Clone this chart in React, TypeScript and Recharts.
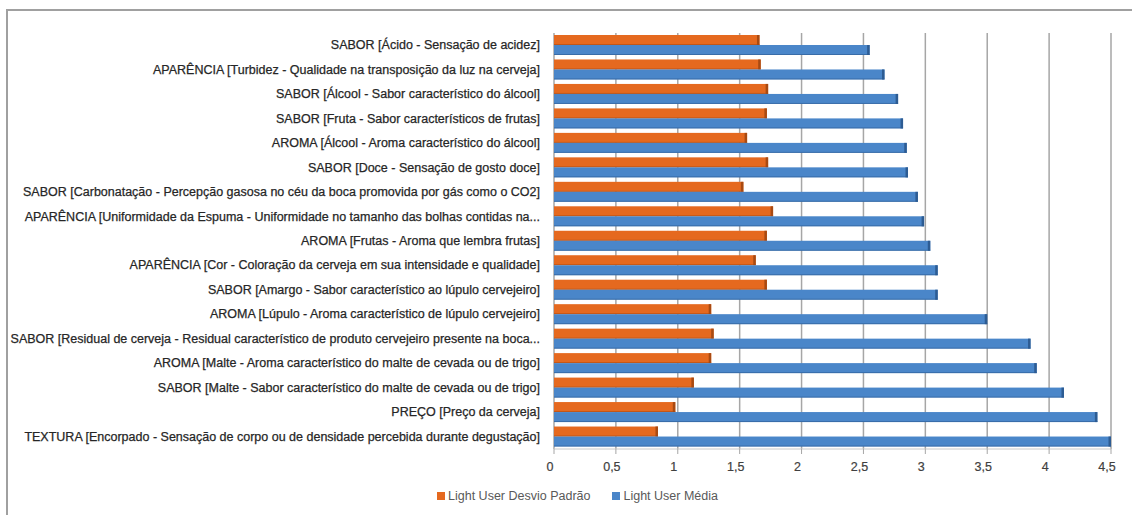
import React from 'react';
import { BarChart, Bar, XAxis, YAxis, CartesianGrid, Legend } from 'recharts';

const categories = [
  'SABOR [Ácido - Sensação de acidez]',
  'APARÊNCIA [Turbidez - Qualidade na transposição da luz na cerveja]',
  'SABOR [Álcool - Sabor característico do álcool]',
  'SABOR [Fruta - Sabor característicos de frutas]',
  'AROMA [Álcool - Aroma característico do álcool]',
  'SABOR [Doce - Sensação de gosto doce]',
  'SABOR [Carbonatação - Percepção gasosa no céu da boca promovida por gás como o CO2]',
  'APARÊNCIA [Uniformidade da Espuma - Uniformidade no tamanho das bolhas contidas na...',
  'AROMA [Frutas - Aroma que lembra frutas]',
  'APARÊNCIA [Cor - Coloração da cerveja em sua intensidade e qualidade]',
  'SABOR [Amargo - Sabor característico ao lúpulo cervejeiro]',
  'AROMA [Lúpulo - Aroma característico de lúpulo cervejeiro]',
  'SABOR [Residual de cerveja - Residual característico de produto cervejeiro presente na boca...',
  'AROMA [Malte - Aroma característico do malte de cevada ou de trigo]',
  'SABOR [Malte - Sabor característico do malte de cevada ou de trigo]',
  'PREÇO [Preço da cerveja]',
  'TEXTURA [Encorpado - Sensação de corpo ou de densidade percebida durante degustação]',
];

const desvioPadrao = [1.66, 1.67, 1.73, 1.72, 1.56, 1.73, 1.53, 1.77, 1.72, 1.63, 1.72, 1.27, 1.29, 1.27, 1.13, 0.98, 0.84];
const media = [2.55, 2.67, 2.78, 2.82, 2.85, 2.86, 2.94, 2.99, 3.04, 3.1, 3.1, 3.5, 3.85, 3.9, 4.12, 4.39, 4.5];

const xTicks = [0, 0.5, 1, 1.5, 2, 2.5, 3, 3.5, 4, 4.5];

const seriesNames = ['Light User Desvio Padrão', 'Light User Média'];

const data = categories.map((c, i) => ({ name: c, desvio: desvioPadrao[i], media: media[i] }));

const ORANGE = '#E5691F';
const ORANGE_DARK = '#A84A12';
const BLUE = '#4A86C9';
const BLUE_DARK = '#2D5C93';

const FONT = '"Liberation Sans", Arial, sans-serif';

const make3DShape = (fill: string, dark: string) => (props: any) => {
  const { x, y, width, height } = props;
  if (width == null || width <= 0) return null;
  const d = 2.5;
  return (
    <g>
      <rect x={x} y={y} width={width} height={height} fill={fill} />
      <rect x={x + width - d} y={y} width={d} height={height} fill={dark} />
      <rect x={x} y={y + height - 1} width={width} height={1} fill={dark} opacity={0.6} />
    </g>
  );
};

const YTick = (props: any) => {
  const { x, y, payload } = props;
  return (
    <text x={x} y={y} dy={4} textAnchor="end" fontSize={12.5} fill="#262626" stroke="#262626" strokeWidth={0.25} fontFamily={FONT}>
      {payload.value}
    </text>
  );
};

const XTick = (props: any) => {
  const { x, y, payload } = props;
  return (
    <text x={x - 4} y={y} dy={15} textAnchor="middle" fontSize={12.5} fill="#404040" stroke="#404040" strokeWidth={0.2} fontFamily={FONT}>
      {String(payload.value).replace('.', ',')}
    </text>
  );
};

const LegendContent = () => (
  <div
    style={{
      display: 'flex',
      justifyContent: 'center',
      alignItems: 'center',
      gap: 22,
      fontSize: 12.5,
      color: '#595959',
      fontFamily: FONT,
      paddingLeft: 44,
      paddingTop: 10,
    }}
  >
    {[ORANGE, BLUE].map((col, i) => (
      <div key={i} style={{ display: 'flex', alignItems: 'center' }}>
        <span style={{ display: 'inline-block', width: 8, height: 8, background: col, marginRight: 3 }} />
        <span>{seriesNames[i]}</span>
      </div>
    ))}
  </div>
);

export default function App() {
  return (
    <div style={{ position: 'absolute', left: 0, top: 0, width: 1132, height: 515, background: '#fff' }}>
      <div
        style={{
          position: 'absolute',
          left: 6,
          top: 9,
          width: 1126,
          height: 506,
          borderTop: '2px solid #a0a0a0',
          borderLeft: '2px solid #a0a0a0',
          boxSizing: 'border-box',
        }}
      />
      <div style={{ position: 'absolute', left: 0, top: 0 }}>
        <BarChart
          width={1132}
          height={515}
          data={data}
          layout="vertical"
          margin={{ top: 33, right: 21, left: 0, bottom: 8 }}
          barGap={0}
        >
          <CartesianGrid horizontal={false} stroke="#a6a6a6" strokeWidth={1.5} />
          <XAxis
            type="number"
            domain={[0, 4.5]}
            ticks={xTicks}
            interval={0}
            tick={<XTick />}
            axisLine={{ stroke: '#c8c8c8' }}
            tickLine={{ stroke: '#a6a6a6' }}
            tickSize={5}
            height={30}
          />
          <YAxis
            type="category"
            dataKey="name"
            width={554}
            interval={0}
            tick={<YTick />}
            tickLine={false}
            axisLine={false}
            tickSize={0}
            tickMargin={14}
          />
          <Legend content={<LegendContent />} verticalAlign="bottom" height={28} />
          <Bar dataKey="desvio" name={seriesNames[0]} fill={ORANGE} barSize={10} isAnimationActive={false} shape={make3DShape(ORANGE, ORANGE_DARK)} />
          <Bar dataKey="media" name={seriesNames[1]} fill={BLUE} barSize={10} isAnimationActive={false} shape={make3DShape(BLUE, BLUE_DARK)} />
        </BarChart>
      </div>
    </div>
  );
}
